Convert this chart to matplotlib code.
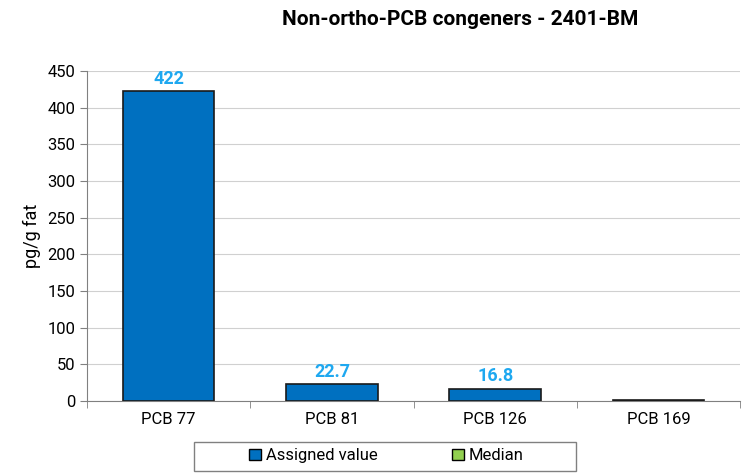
import numpy as np
import matplotlib.pyplot as plt
from matplotlib.patches import Patch, Rectangle

# --- data ---
categories = ["PCB 77", "PCB 81", "PCB 126", "PCB 169"]
assigned = [422, 22.7, 16.8, 1.0]
assigned_labels = ["422", "22.7", "16.8", ""]

plt.rcParams['font.family'] = ['Roboto', 'DejaVu Sans']

fig = plt.figure(figsize=(7.46, 4.73), dpi=100)
ax = fig.add_axes([0.1166, 0.152, 0.8754, 0.698])

x = np.arange(len(categories))
ax.bar(x, assigned, width=0.56, color='#0070C0', edgecolor='#1A1A1A', linewidth=1.2, zorder=3)

for xi, val, lab in zip(x, assigned, assigned_labels):
    if lab:
        ax.text(xi, val + 5, lab, ha='center', va='bottom', color='#1EA8F0',
                fontsize=13, fontweight='bold')

ax.set_xlim(-0.5, len(categories) - 0.5)
ax.set_ylim(0, 450)
ax.set_yticks(np.arange(0, 451, 50))
ax.set_xticks(x)
ax.set_xticklabels(categories, fontsize=12)
ax.set_xticks(np.arange(-0.5, len(categories), 1), minor=True)
ax.tick_params(axis='x', which='major', length=0, pad=8)
ax.tick_params(axis='x', which='minor', length=5, color='#808080')
ax.tick_params(axis='y', labelsize=12, length=5, color='#808080')
ax.set_ylabel("pg/g fat", fontsize=13)

ax.grid(axis='y', color='#D0D0D0', linewidth=0.8, zorder=0)
for s in ['top', 'right']:
    ax.spines[s].set_visible(False)
for s in ['left', 'bottom']:
    ax.spines[s].set_color('#808080')

fig.text(0.617, 0.958, "Non-ortho-PCB congeners - 2401-BM", ha='center', va='center',
         fontsize=15, fontweight='bold')

# legend box drawn separately (wide frame like the original)
fig.patches.append(Rectangle((194 / 746, 2 / 473), 382 / 746, 29 / 473,
                             transform=fig.transFigure, facecolor='white',
                             edgecolor='#808080', linewidth=1.0))
handles = [Patch(facecolor='#0070C0', edgecolor='black', label='Assigned value'),
           Patch(facecolor='#92D050', edgecolor='black', label='Median')]
fig.legend(handles=handles, loc='center', bbox_to_anchor=(0.518, 0.036), ncol=2,
           fontsize=12, frameon=False,
           handlelength=0.7, handleheight=0.7, handletextpad=0.3, columnspacing=4.5)

fig.savefig("out.png", dpi=100)
